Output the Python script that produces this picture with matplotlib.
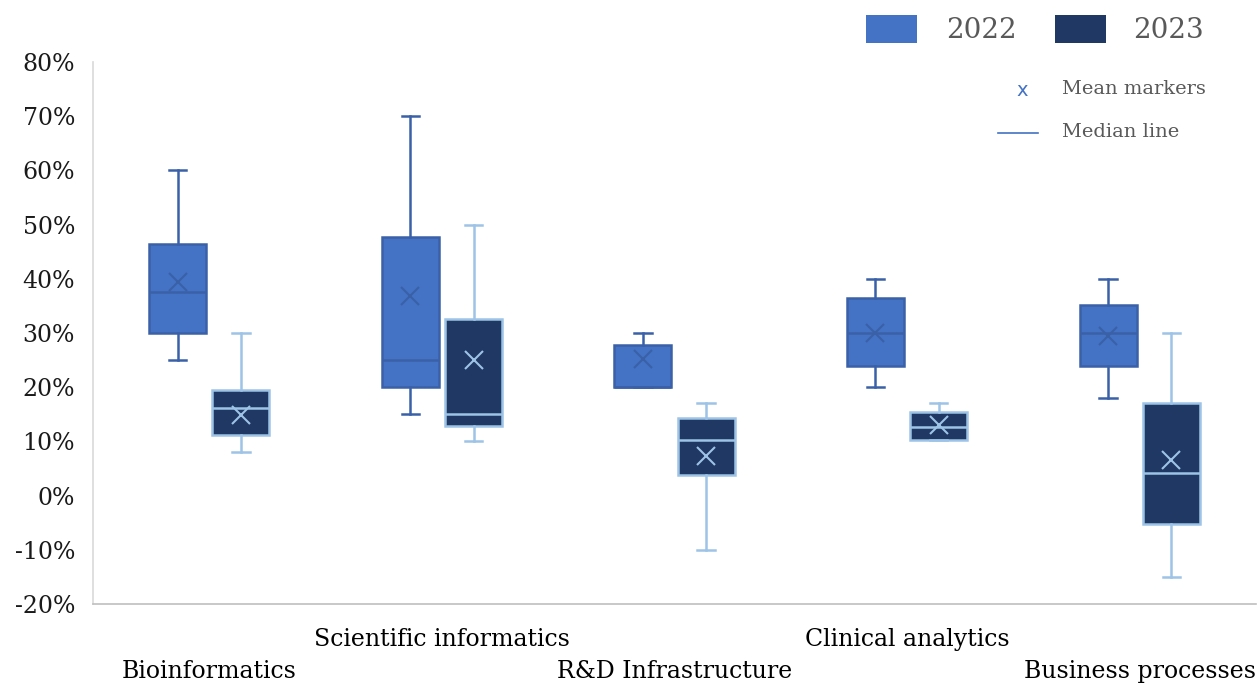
import matplotlib
matplotlib.use("Agg")
import matplotlib.pyplot as plt
from matplotlib.patches import Rectangle
from matplotlib.lines import Line2D

plt.rcParams['font.family'] = ['DejaVu Serif']

categories = ["Bioinformatics", "Scientific informatics", "R&D Infrastructure",
              "Clinical analytics", "Business processes"]
years = ["2022", "2023"]

# values in percent
whislo_2022 = [25, 15, 20, 20, 18]
q1_2022     = [30, 20, 20, 24, 24]
med_2022    = [37.5, 25, 20, 30, 30]
q3_2022     = [46.5, 47.8, 27.8, 36.5, 35.2]
whishi_2022 = [60, 70, 30, 40, 40]
mean_2022   = [39.5, 36.8, 25.2, 30, 29.5]

whislo_2023 = [8, 10, -10, 10.3, -15]
q1_2023     = [11.2, 12.8, 3.8, 10.3, -5.3]
med_2023    = [16.1, 15.1, 10.2, 12.7, 4.1]
q3_2023     = [19.4, 32.6, 14.4, 15.5, 17.0]
whishi_2023 = [30, 50, 17, 17, 30]
mean_2023   = [14.8, 25.1, 7.3, 13.1, 6.5]

yticks = [-20, -10, 0, 10, 20, 30, 40, 50, 60, 70, 80]

fill_2022, edge_2022 = "#4472C4", "#3A61A8"
fill_2023, edge_2023 = "#203864", "#9DC3E6"

fig = plt.figure(figsize=(12.59, 6.85), dpi=100)
ax = fig.add_axes([93/1259, 1-604/685, (1256-93)/1259, (604-62)/685])

def stats(lo, q1, med, q3, hi, mean):
    return [dict(whislo=a, q1=b, med=c, q3=d, whishi=e, mean=f, fliers=[])
            for a, b, c, d, e, f in zip(lo, q1, med, q3, hi, mean)]

s22 = stats(whislo_2022, q1_2022, med_2022, q3_2022, whishi_2022, mean_2022)
s23 = stats(whislo_2023, q1_2023, med_2023, q3_2023, whishi_2023, mean_2023)

off = 0.136
bw = 0.245
cw = 0.075
pos = list(range(len(categories)))

for st, p, fc, ec in [(s22, [x - off for x in pos], fill_2022, edge_2022),
                      (s23, [x + off for x in pos], fill_2023, edge_2023)]:
    ax.bxp(st, positions=p, widths=bw, capwidths=cw, patch_artist=True,
           showmeans=True, showfliers=False,
           boxprops=dict(facecolor=fc, edgecolor=ec, linewidth=1.8),
           whiskerprops=dict(color=ec, linewidth=1.8),
           capprops=dict(color=ec, linewidth=1.8),
           medianprops=dict(color=ec, linewidth=1.8),
           meanprops=dict(marker="x", markeredgecolor=ec, markersize=13,
                          markeredgewidth=1.5, linestyle="none"))

ax.set_xlim(-0.5, len(categories) - 0.5)
ax.set_ylim(-20, 80)
ax.set_yticks(yticks)
ax.set_yticklabels([f"{t}%" for t in yticks], fontsize=17, color="#1a1a1a")
ax.tick_params(axis="y", length=0, pad=13)
ax.set_xticks([])
for s in ["top", "right"]:
    ax.spines[s].set_visible(False)
ax.spines["left"].set_color("#D9D9D9")
ax.spines["bottom"].set_color("#BFBFBF")
ax.spines["left"].set_linewidth(1.2)
ax.spines["bottom"].set_linewidth(1.2)

# staggered category labels
for i, c in enumerate(categories):
    y = -0.065 if i % 2 == 1 else -0.125
    ax.text(i, y, c, transform=ax.get_xaxis_transform(), ha="center", va="center",
            fontsize=17, color="#000000")

# legend
W, H = 1259, 685
def fx(x): return x / W
def fy(y): return 1 - y / H
fig.add_artist(Rectangle((fx(866), fy(43)), 51/W, 28/H, facecolor=fill_2022, edgecolor="none",
                         transform=fig.transFigure))
fig.text(fx(946), fy(30), "2022", fontsize=20, color="#595959", va="center", ha="left")
fig.add_artist(Rectangle((fx(1055), fy(43)), 51/W, 28/H, facecolor=fill_2023, edgecolor="none",
                         transform=fig.transFigure))
fig.text(fx(1133), fy(30), "2023", fontsize=20, color="#595959", va="center", ha="left")

fig.text(fx(1022), fy(91), "x", fontsize=14, color=fill_2022, va="center", ha="center",
         family="DejaVu Sans")
fig.text(fx(1062), fy(89), "Mean markers", fontsize=14, color="#595959", va="center", ha="left")
fig.add_artist(Line2D([fx(998), fx(1038)], [fy(133), fy(133)], color=fill_2022, linewidth=1.2,
                      transform=fig.transFigure))
fig.text(fx(1062), fy(132), "Median line", fontsize=14, color="#595959", va="center", ha="left")

fig.savefig("out.png", dpi=100)
